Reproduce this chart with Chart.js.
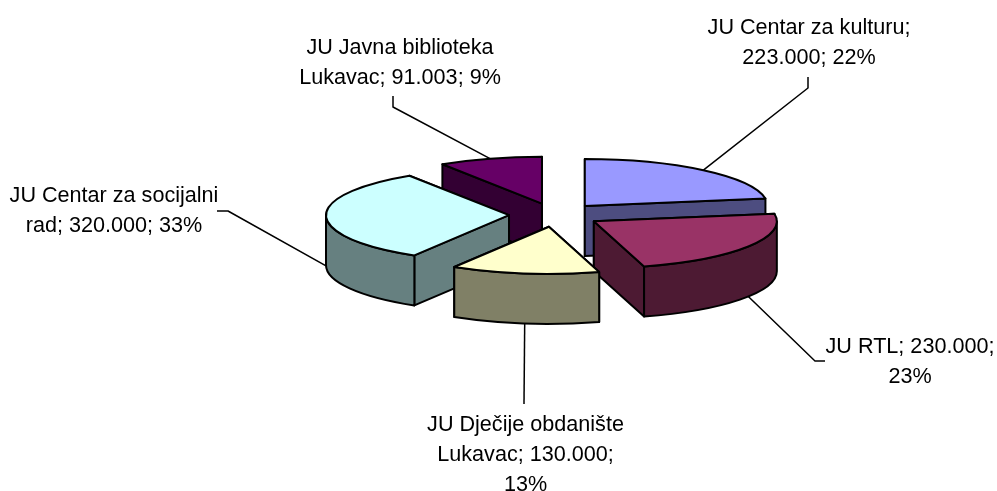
<!DOCTYPE html>
<html>
<head>
<meta charset="utf-8">
<title>Pie</title>
<script src="https://cdn.jsdelivr.net/npm/chart.js@4/dist/chart.umd.min.js"></script>
<style>
  html, body { margin: 0; padding: 0; background: #fff; }
  canvas { display: block; }
</style>
</head>
<body>
<canvas id="chart" width="997" height="491"></canvas>
<script>
// data
const names = ["JU Centar za kulturu", "JU RTL", "JU Dječije obdanište Lukavac", "JU Centar za socijalni rad", "JU Javna biblioteka Lukavac"];
const values = [223000, 230000, 130000, 320000, 91003];
const valueLabels = ["223.000", "230.000", "130.000", "320.000", "91.003"];
const percents = ["22%", "23%", "13%", "33%", "9%"];

const topColors = ["#9999ff", "#993366", "#ffffcc", "#ccffff", "#660066"];
const wallColors = ["#4d4d80", "#4d1a33", "#808066", "#668080", "#330033"];

// 3d look of the old excel pie
const centerX = 555, centerY = 215;
const radius = 183, squash = 0.257, depth = 50, explode = 46;

// label text is wrapped by hand, same breaks as the picture
const labelLines = [
  [names[0] + ";", valueLabels[0] + "; " + percents[0]],
  ["JU RTL; " + valueLabels[1] + ";", percents[1]],
  ["JU Dječije obdanište", "Lukavac; " + valueLabels[2] + ";", percents[2]],
  ["JU Centar za socijalni", "rad; " + valueLabels[3] + "; " + percents[3]],
  ["JU Javna biblioteka", "Lukavac; " + valueLabels[4] + "; " + percents[4]]
];
const labelCenterX = [809, 910, 525.5, 114, 400];
const labelBaseY = [34, 353, 431, 202, 54];
const lineGap = 30;
// leader line: label end, then elbow, then the slice
const leaderEnds = [[808, 77], [825, 361], [524, 404], [217, 211], [393, 96]];
const leaderElbows = [[808, 88], [815, 361], [524, 404], [228, 211], [393, 107]];

function screenPos(arc) {
  return {
    x: centerX + (arc.x - arc.chartX),
    y: centerY + (arc.y - arc.chartY) * squash
  };
}

function drawWalls(ctx, arcs) {
  // back slices first so the front ones cover them
  const order = arcs.map((arc, i) => i).sort((a, b) => screenPos(arcs[a]).y - screenPos(arcs[b]).y);
  ctx.lineWidth = 2;
  ctx.lineJoin = "round";
  ctx.strokeStyle = "#000";
  order.forEach(i => {
    const arc = arcs[i];
    const p = screenPos(arc);
    const ry = radius * squash;
    ctx.fillStyle = wallColors[i];
    [arc.startAngle, arc.endAngle].sort((a, b) => Math.sin(a) - Math.sin(b)).forEach(a => {
      const rx2 = p.x + Math.cos(a) * radius, ry2 = p.y + Math.sin(a) * ry;
      ctx.beginPath();
      ctx.moveTo(p.x, p.y);
      ctx.lineTo(rx2, ry2);
      ctx.lineTo(rx2, ry2 + depth);
      ctx.lineTo(p.x, p.y + depth);
      ctx.closePath();
      ctx.fill();
      ctx.stroke();
    });
    const from = Math.max(arc.startAngle, 0), to = Math.min(arc.endAngle, Math.PI);
    if (to > from) {
      ctx.beginPath();
      ctx.ellipse(p.x, p.y, radius, ry, 0, from, to);
      ctx.ellipse(p.x, p.y + depth, radius, ry, 0, to, from, true);
      ctx.closePath();
      ctx.fill();
      ctx.stroke();
    }
  });
}

function drawOutlines(ctx, arcs) {
  ctx.lineWidth = 2;
  ctx.lineJoin = "round";
  ctx.strokeStyle = "#000";
  arcs.forEach(arc => {
    const p = screenPos(arc);
    ctx.beginPath();
    ctx.moveTo(p.x, p.y);
    ctx.ellipse(p.x, p.y, radius, radius * squash, 0, arc.startAngle, arc.endAngle);
    ctx.closePath();
    ctx.stroke();
  });
}

function drawLabels(ctx, arcs) {
  ctx.strokeStyle = "#000";
  ctx.lineWidth = 1.5;
  arcs.forEach((arc, i) => {
    const p = screenPos(arc);
    const mid = (arc.startAngle + arc.endAngle) / 2;
    const sy = Math.sin(mid);
    ctx.beginPath();
    ctx.moveTo(leaderEnds[i][0], leaderEnds[i][1]);
    ctx.lineTo(leaderElbows[i][0], leaderElbows[i][1]);
    ctx.lineTo(p.x + Math.cos(mid) * radius, p.y + sy * radius * squash + (sy > 0 ? depth : 0));
    ctx.stroke();
  });
  ctx.fillStyle = "#000";
  ctx.font = '21.6px "Liberation Sans"';
  ctx.textAlign = "center";
  ctx.textBaseline = "alphabetic";
  labelLines.forEach((lines, i) => {
    lines.forEach((line, j) => ctx.fillText(line, labelCenterX[i], labelBaseY[i] + j * lineGap));
  });
}

const pie3d = {
  id: "pie3d",
  afterDatasetsUpdate(chart) {
    // pull slices out here, the arc "offset" option also changes the radius
    chart.getDatasetMeta(0).data.forEach(arc => {
      const mid = (arc.startAngle + arc.endAngle) / 2;
      arc.chartX = arc.x;
      arc.chartY = arc.y;
      arc.x += Math.cos(mid) * explode;
      arc.y += Math.sin(mid) * explode;
    });
  },
  beforeDatasetsDraw(chart) {
    const ctx = chart.ctx;
    const arcs = chart.getDatasetMeta(0).data;
    ctx.save();
    drawWalls(ctx, arcs);
    ctx.translate(centerX, centerY);
    ctx.scale(1, squash);
    ctx.translate(-arcs[0].chartX, -arcs[0].chartY);
  },
  afterDatasetsDraw(chart) {
    const ctx = chart.ctx;
    const arcs = chart.getDatasetMeta(0).data;
    ctx.restore();
    drawOutlines(ctx, arcs);
    drawLabels(ctx, arcs);
  }
};

new Chart(document.getElementById("chart"), {
  type: "pie",
  data: {
    labels: names,
    datasets: [{
      data: values,
      backgroundColor: topColors,
      borderWidth: 0,
      radius: radius,
      clip: false
    }]
  },
  options: {
    responsive: false,
    animation: false,
    events: [],
    plugins: {
      legend: { display: false },
      tooltip: { enabled: false }
    }
  },
  plugins: [pie3d]
});
</script>
</body>
</html>
